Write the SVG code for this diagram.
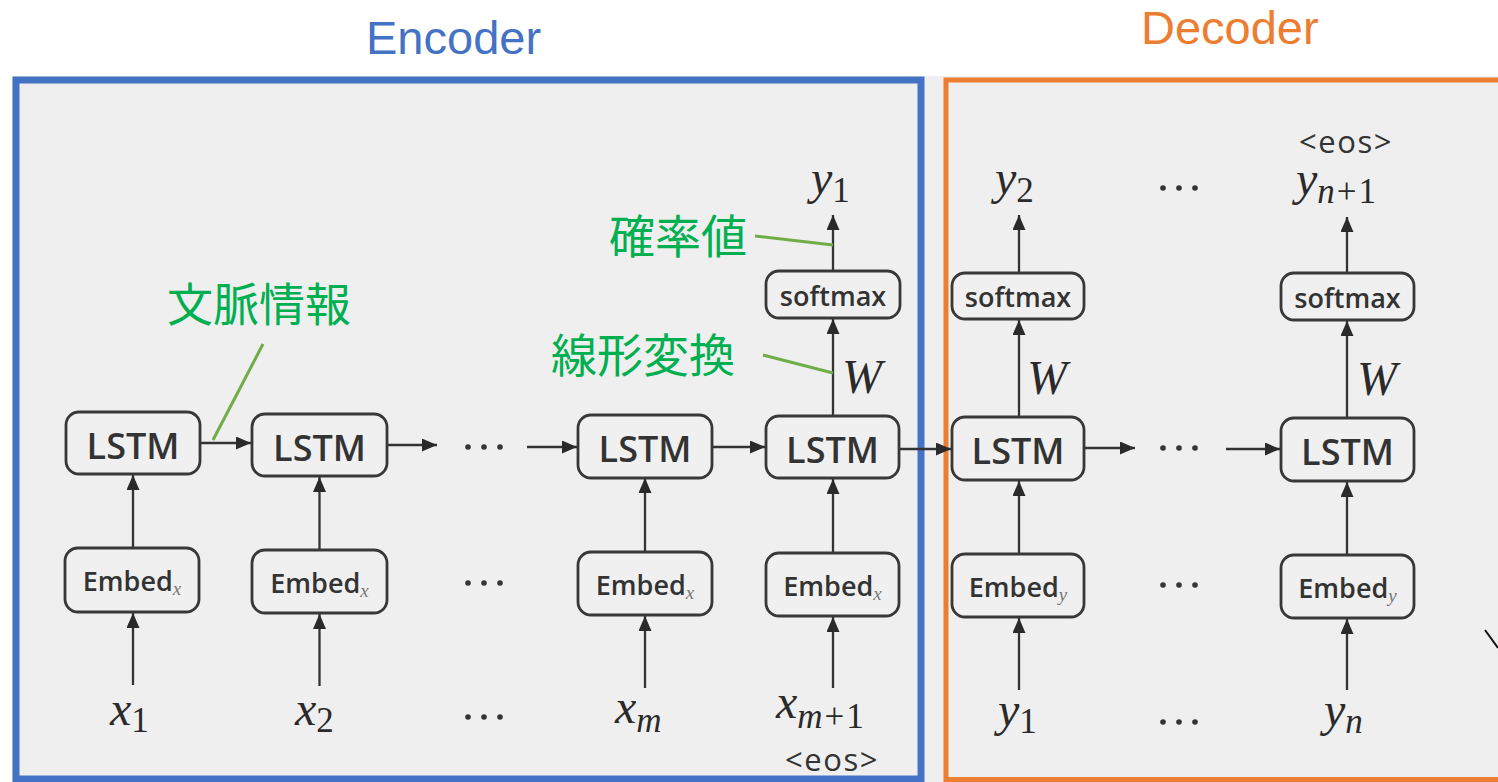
<svg xmlns="http://www.w3.org/2000/svg" width="1498" height="782" viewBox="0 0 1498 782">
<style>
.box{fill:#f0f0f0;stroke:#383838;stroke-width:2.8}
.lbl{font-family:"Open Sans","Noto Sans",sans-serif;font-weight:600;fill:#333;text-anchor:middle}
.lstm{font-size:36px}
.emb{font-size:27px}
.sm{font-size:27px}
.sub{font-family:"Liberation Serif",serif;font-style:italic;font-weight:normal;font-size:19px;fill:#777}
.math{font-family:"Liberation Serif","DejaVu Serif",serif;font-style:italic;font-size:48px;fill:#2a2a2a}
.msub{font-style:normal;font-size:35px;letter-spacing:2px}
.msubi{font-size:35px;letter-spacing:2px}
.eos{font-family:"Open Sans","Noto Sans",sans-serif;font-size:31px;fill:#333;text-anchor:middle;letter-spacing:1.5px}
.title{font-family:"Liberation Sans",Arial,sans-serif;font-size:47px}
.jp{font-family:"Noto Sans CJK JP","Noto Sans",sans-serif;font-size:46px;fill:#00b050}
.lead{stroke:#70ad47;stroke-width:3;fill:none}
.conn line{stroke:#333;stroke-width:2.3;marker-end:url(#ah)}
.dot{fill:#333}
</style>
<defs>
<marker id="ah" markerUnits="userSpaceOnUse" markerWidth="15" markerHeight="13" refX="15" refY="6.5" orient="auto">
<path d="M0,0 L15,6.5 L0,13 z" fill="#2a2a2a"/>
</marker>
</defs>
<rect x="0" y="0" width="1498" height="782" fill="#ffffff"/>
<rect x="12" y="76" width="1486" height="706" fill="#efefef"/>
<g id="frames">
<rect id="encoder-frame" x="16" y="80" width="905" height="699" fill="none" stroke="#4472c4" stroke-width="7"/>
<rect id="decoder-frame" x="946" y="80" width="600" height="699.5" fill="none" stroke="#ed7d31" stroke-width="5"/>
<text class="title" x="366" y="54" fill="#4472c4">Encoder</text>
<text class="title" x="1141" y="44" fill="#ed7d31">Decoder</text>
</g>
<g id="connectors" class="conn">
<line x1="133" y1="685" x2="133" y2="613"/>
<line x1="133" y1="548" x2="133" y2="475"/>
<line x1="319.5" y1="686" x2="319.5" y2="614"/>
<line x1="319.5" y1="550" x2="319.5" y2="477"/>
<line x1="645" y1="688" x2="645" y2="616"/>
<line x1="645" y1="552" x2="645" y2="478"/>
<line x1="833" y1="688" x2="833" y2="617"/>
<line x1="833" y1="553" x2="833" y2="479"/>
<line x1="833" y1="416" x2="833" y2="319"/>
<line x1="833" y1="271" x2="833" y2="215"/>
<line x1="1019" y1="690" x2="1019" y2="618"/>
<line x1="1019" y1="554" x2="1019" y2="481"/>
<line x1="1019" y1="417" x2="1019" y2="320"/>
<line x1="1019" y1="273" x2="1019" y2="215"/>
<line x1="1347" y1="690" x2="1347" y2="619"/>
<line x1="1347" y1="555" x2="1347" y2="482"/>
<line x1="1347" y1="418" x2="1347" y2="321"/>
<line x1="1347" y1="273" x2="1347" y2="217"/>
<line x1="200" y1="443" x2="251" y2="443"/>
<line x1="387" y1="445" x2="437" y2="445"/>
<line x1="527" y1="447" x2="577" y2="447"/>
<line x1="712" y1="447" x2="765" y2="447"/>
<line x1="899" y1="449" x2="951" y2="449"/>
<line x1="1084" y1="448" x2="1135" y2="448"/>
<line x1="1226" y1="449" x2="1280" y2="449"/>
</g>
<g id="lstm1"><rect class="box" x="66" y="412" width="134" height="62" rx="13"/><text class="lbl lstm" x="133" y="459">LSTM</text></g>
<g id="lstm2"><rect class="box" x="252" y="414" width="135" height="62" rx="13"/><text class="lbl lstm" x="319.5" y="461">LSTM</text></g>
<g id="lstm3"><rect class="box" x="578" y="415" width="134" height="63" rx="13"/><text class="lbl lstm" x="645" y="462">LSTM</text></g>
<g id="lstm4"><rect class="box" x="766" y="416" width="133" height="62" rx="13"/><text class="lbl lstm" x="832.5" y="463">LSTM</text></g>
<g id="lstm5"><rect class="box" x="952" y="417" width="132" height="63" rx="13"/><text class="lbl lstm" x="1018" y="464">LSTM</text></g>
<g id="lstm6"><rect class="box" x="1281" y="418" width="133" height="63" rx="13"/><text class="lbl lstm" x="1347.5" y="465">LSTM</text></g>
<g id="embed1"><rect class="box" x="65" y="548" width="134" height="64" rx="13"/><text class="lbl emb" x="132" y="591">Embed<tspan class="sub" dy="4">x</tspan></text></g>
<g id="embed2"><rect class="box" x="252" y="550" width="135" height="63" rx="13"/><text class="lbl emb" x="319.5" y="593">Embed<tspan class="sub" dy="4">x</tspan></text></g>
<g id="embed3"><rect class="box" x="578" y="552" width="134" height="63" rx="13"/><text class="lbl emb" x="645" y="595">Embed<tspan class="sub" dy="4">x</tspan></text></g>
<g id="embed4"><rect class="box" x="766" y="553" width="133" height="63" rx="13"/><text class="lbl emb" x="832.5" y="596">Embed<tspan class="sub" dy="4">x</tspan></text></g>
<g id="embed5"><rect class="box" x="952" y="554" width="132" height="63" rx="13"/><text class="lbl emb" x="1018" y="597">Embed<tspan class="sub" dy="4">y</tspan></text></g>
<g id="embed6"><rect class="box" x="1281" y="555" width="133" height="63" rx="13"/><text class="lbl emb" x="1347.5" y="598">Embed<tspan class="sub" dy="4">y</tspan></text></g>
<g id="softmax1"><rect class="box" x="766" y="271" width="134" height="47" rx="13"/><text class="lbl sm" x="833" y="306">softmax</text></g>
<g id="softmax2"><rect class="box" x="952" y="273" width="132" height="46" rx="13"/><text class="lbl sm" x="1018" y="307">softmax</text></g>
<g id="softmax3"><rect class="box" x="1281" y="273" width="133" height="47" rx="13"/><text class="lbl sm" x="1347.5" y="308">softmax</text></g>
<g id="labels">
<text class="math" x="110" y="725">x<tspan class="msub" dy="7">1</tspan></text>
<text class="math" x="295" y="725">x<tspan class="msub" dy="7">2</tspan></text>
<text class="math" x="615" y="723">x<tspan class="msubi" dy="9">m</tspan></text>
<text class="math" x="776" y="718">x<tspan class="msubi" dy="10">m</tspan><tspan class="msub">+1</tspan></text>
<text class="eos" x="832" y="771">&lt;eos&gt;</text>
<text class="math" x="811" y="194">y<tspan class="msub" dy="8">1</tspan></text>
<text class="math" x="995" y="194">y<tspan class="msub" dy="8">2</tspan></text>
<text class="math" x="1296" y="195">y<tspan class="msubi" dy="8">n</tspan><tspan class="msub">+1</tspan></text>
<text class="eos" x="1346" y="153">&lt;eos&gt;</text>
<text class="math" x="998" y="726">y<tspan class="msub" dy="7">1</tspan></text>
<text class="math" x="1324" y="726">y<tspan class="msubi" dy="7">n</tspan></text>
<text class="math" x="842" y="393" font-size="52">W</text>
<text class="math" x="1027" y="394" font-size="52">W</text>
<text class="math" x="1357" y="395" font-size="52">W</text>
</g>
<g id="ellipses">
<circle class="dot" cx="468" cy="447" r="2.8"/><circle class="dot" cx="484" cy="447" r="2.8"/><circle class="dot" cx="500" cy="447" r="2.8"/>
<circle class="dot" cx="468" cy="583" r="2.8"/><circle class="dot" cx="484" cy="583" r="2.8"/><circle class="dot" cx="500" cy="583" r="2.8"/>
<circle class="dot" cx="468" cy="717" r="2.8"/><circle class="dot" cx="484" cy="717" r="2.8"/><circle class="dot" cx="500" cy="717" r="2.8"/>
<circle class="dot" cx="1163" cy="188" r="2.8"/><circle class="dot" cx="1179" cy="188" r="2.8"/><circle class="dot" cx="1195" cy="188" r="2.8"/>
<circle class="dot" cx="1163" cy="448" r="2.8"/><circle class="dot" cx="1179" cy="448" r="2.8"/><circle class="dot" cx="1195" cy="448" r="2.8"/>
<circle class="dot" cx="1163" cy="585" r="2.8"/><circle class="dot" cx="1179" cy="585" r="2.8"/><circle class="dot" cx="1195" cy="585" r="2.8"/>
<circle class="dot" cx="1163" cy="722" r="2.8"/><circle class="dot" cx="1179" cy="722" r="2.8"/><circle class="dot" cx="1195" cy="722" r="2.8"/>
</g>
<g id="annotations">
<text class="jp" x="167" y="321">文脈情報</text>
<line class="lead" x1="263" y1="344" x2="213" y2="440"/>
<text class="jp" x="609" y="253">確率値</text>
<line class="lead" x1="755" y1="236" x2="833" y2="245"/>
<text class="jp" x="551" y="372">線形変換</text>
<line class="lead" x1="763" y1="355" x2="833" y2="373"/>
</g>
<line x1="1485" y1="630" x2="1498" y2="648" stroke="#111" stroke-width="2"/>
</svg>
